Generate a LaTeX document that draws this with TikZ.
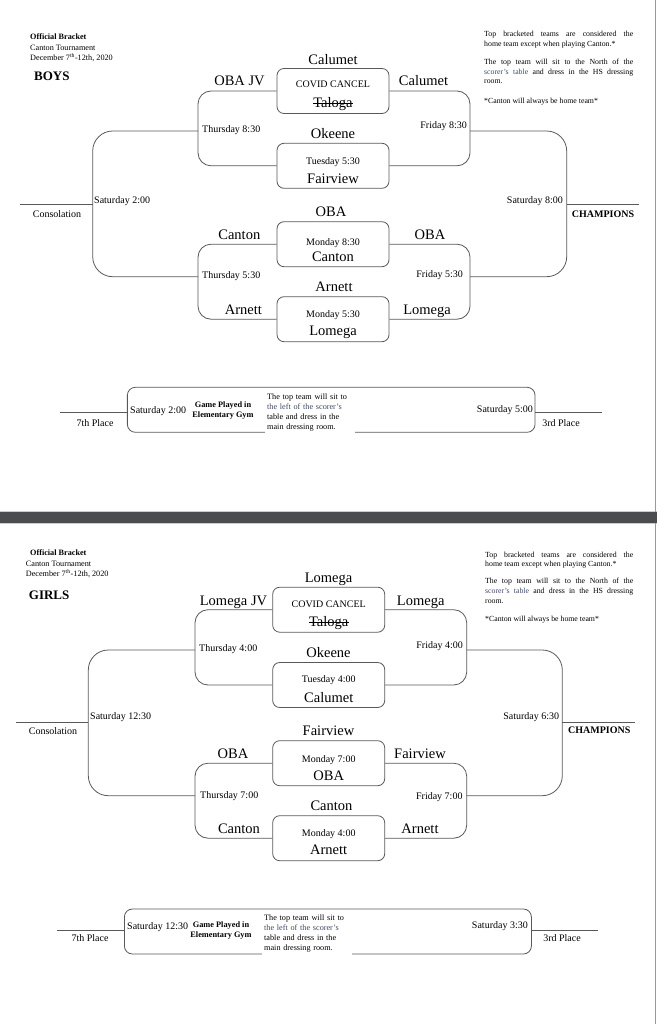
\documentclass[tikz,border=0pt]{standalone}
\usepackage{fontspec}
\setmainfont{Liberation Serif}
\usepackage{tikz}
\definecolor{linegray}{rgb}{0.35,0.35,0.35}
\definecolor{bandgray}{rgb}{0.29,0.30,0.31}
\definecolor{scorerblue}{rgb}{0.25,0.29,0.42}

\begin{document}
\begin{tikzpicture}[x=1pt,y=-1pt,
  teamname/.style={font=\fontsize{14.5}{16}\selectfont,anchor=base,inner sep=0pt},
  slottime/.style={font=\fontsize{10}{12}\selectfont,inner sep=0pt},
  headtext/.style={font=\fontsize{8.2}{10}\selectfont,anchor=west,inner sep=0pt},
  ruletext/.style={font=\fontsize{7.8}{9.6}\selectfont,anchor=north west,inner sep=0pt,align=left},
  gymtext/.style={font=\fontsize{8.3}{10}\selectfont\bfseries,inner sep=0pt,align=center},
  notetext/.style={font=\fontsize{8.2}{10}\selectfont,anchor=north west,fill=white,inner xsep=2pt,inner ysep=4pt,text width=86pt,align=left},
  matchbox/.style={draw=linegray,line width=0.8pt,rounded corners=7pt,minimum width=112pt,minimum height=45pt,inner sep=0pt},
  placebox/.style={draw=linegray,line width=0.8pt,rounded corners=8pt,minimum height=45pt,inner sep=0pt},
  bracket/.style={draw=linegray,line width=0.8pt,rounded corners=13pt},
  bigbracket/.style={draw=linegray,line width=0.8pt,rounded corners=20pt},
  tail/.style={draw=linegray,line width=0.8pt}]
\useasboundingbox (0,0) rectangle (657,1024);
%\draw[step=50pt,lightgray,very thin] (0,0) grid (657,1024);

% page edges
\fill[bandgray] (0,512) rectangle (657,523);
\draw[gray!40,line width=0.6pt] (0,511.7) -- (657,511.7);
\draw[gray!40,line width=0.6pt] (0,523.3) -- (657,523.3);
\draw[gray!80,line width=0.7pt] (655.3,0) -- (655.3,512);
\draw[gray!80,line width=0.7pt] (655.3,523) -- (655.3,1024);

% ---------------- BOYS ----------------
\node[headtext,font=\fontsize{8.2}{10}\selectfont\bfseries] (bOff) at (30,37) {Official Bracket};
\node[headtext] (bTour) at (30,48) {Canton Tournament};
\node[headtext] (bDate) at (30,58) {December 7\textsuperscript{th}-12th, 2020};
\node[headtext,font=\fontsize{13}{15}\selectfont\bfseries] (bBoys) at (34,76) {BOYS};

\node[ruletext] (bRuleA) at (484,31) {\makebox[149pt][s]{Top bracketed teams are considered the}\\home team except when playing Canton.*};
\node[ruletext] (bRuleB) at (484,58.8) {\makebox[149pt][s]{The top team will sit to the North of the}\\\makebox[149pt][s]{{\color{scorerblue}scorer's table} and dress in the HS dressing}\\room.};
\node[ruletext] (bRuleC) at (484,97.8) {*Canton will always be home team*};

\node[matchbox] (bA) at (333,91) {};
\node[matchbox] (bB) at (333,165.8) {};
\node[matchbox] (bC) at (333,244.2) {};
\node[matchbox] (bD) at (333,319.2) {};

\node[teamname] (bAtop) at (333,64.3) {Calumet};
\node[slottime,anchor=base] (bAin) at (333,88) {COVID CANCEL};
\node[teamname] (bAout) at (333,108) {Taloga};
\draw[line width=0.6pt] ([yshift=4.3pt]bAout.base west) -- ([yshift=4.3pt]bAout.base east);
\node[teamname] (bBtop) at (333,138.3) {Okeene};
\node[slottime,anchor=base] (bBin) at (333,164.5) {Tuesday 5:30};
\node[teamname] (bBout) at (333,184) {Fairview};
\node[teamname] (bCtop) at (331,216.7) {OBA};
\node[slottime,anchor=base] (bCin) at (333,245.5) {Monday 8:30};
\node[teamname] (bCout) at (333,261.7) {Canton};
\node[teamname] (bDtop) at (334,291.7) {Arnett};
\node[slottime,anchor=base] (bDin) at (333,317.5) {Monday 5:30};
\node[teamname] (bDout) at (333,335.5) {Lomega};

\coordinate (bThuA) at (198,131);
\coordinate (bThuB) at (198,276.7);
\coordinate (bFriA) at (470,131);
\coordinate (bFriB) at (470,276.7);
\coordinate (bCons) at (92.7,204);
\coordinate (bConsEnd) at (20,204);
\coordinate (bChamp) at (566.7,204);
\coordinate (bChampEnd) at (639,204);

\draw[bracket] (bA.west) -| (bThuA) |- (bB.west);
\draw[bracket] (bC.west) -| (bThuB) |- (bD.west);
\draw[bracket] (bA.east) -| (bFriA) |- (bB.east);
\draw[bracket] (bC.east) -| (bFriB) |- (bD.east);
\draw[bigbracket] (bThuA) -| (bCons) |- (bThuB);
\draw[bigbracket] (bFriA) -| (bChamp) |- (bFriB);
\draw[tail] (bCons) -- (bConsEnd);
\draw[tail] (bChamp) -- (bChampEnd);

\node[teamname] (bObaJv) at (239.5,86) {OBA JV};
\node[teamname] (bCalR) at (423.5,86) {Calumet};
\node[teamname] (bCanL) at (239.3,239.3) {Canton};
\node[teamname] (bArnL) at (243.3,314.3) {Arnett};
\node[teamname] (bObaR) at (430,239.3) {OBA};
\node[teamname] (bLomR) at (427,314.3) {Lomega};

\node[slottime,anchor=west] (bThu1) at (202,130) {Thursday 8:30};
\node[slottime,anchor=west] (bThu2) at (202,276) {Thursday 5:30};
\node[slottime,anchor=east] (bFri1) at (467,126) {Friday 8:30};
\node[slottime,anchor=east] (bFri2) at (463,275) {Friday 5:30};
\node[slottime,anchor=west] (bSat1) at (94,201) {Saturday 2:00};
\node[slottime,anchor=east] (bSat2) at (563,201) {Saturday 8:00};
\node[slottime] (bConsTxt) at (57,214) {Consolation};
\node[slottime,font=\fontsize{10}{12}\selectfont\bfseries] (bChampTxt) at (603,214) {CHAMPIONS};

\node[placebox,minimum width=407.7pt] (bPlace) at (331.2,409.8) {};
\coordinate (bSeventh) at (60,412.3);
\coordinate (bThird) at (602,412.3);
\draw[tail] (bSeventh) -- (bSeventh -| bPlace.west);
\draw[tail] (bPlace.east |- bThird) -- (bThird);
\node[slottime] (bSevTxt) at (95,422.7) {7th Place};
\node[slottime] (bThiTxt) at (561,422.7) {3rd Place};
\node[slottime,anchor=west] (bSat3) at (130,411) {Saturday 2:00};
\node[slottime,anchor=east] (bSat4) at (533,410) {Saturday 5:00};
\node[gymtext] (bGym) at (223,411) {Game Played in\\Elementary Gym};
\node[notetext] (bNote) at (265,389.9) {The top team will sit to\\{\color{scorerblue}the left of the scorer's}\\table and dress in the\\main dressing room.};

% ---------------- GIRLS ----------------
\node[headtext,font=\fontsize{8.2}{10}\selectfont\bfseries] (gOff) at (30,552.7) {Official Bracket};
\node[headtext] (gTour) at (25.7,564) {Canton Tournament};
\node[headtext] (gDate) at (25.7,573.7) {December 7\textsuperscript{th}-12th, 2020};
\node[headtext,font=\fontsize{13}{15}\selectfont\bfseries] (gGirls) at (28.7,595) {GIRLS};

\node[ruletext] (gRuleA) at (485,551.5) {\makebox[148pt][s]{Top bracketed teams are considered the}\\home team except when playing Canton.*};
\node[ruletext] (gRuleB) at (485,578.3) {\makebox[148pt][s]{The top team will sit to the North of the}\\\makebox[148pt][s]{{\color{scorerblue}scorer's table} and dress in the HS dressing}\\room.};
\node[ruletext] (gRuleC) at (485,616.3) {*Canton will always be home team*};

\node[matchbox] (gA) at (328.7,609.7) {};
\node[matchbox] (gB) at (328.7,685) {};
\node[matchbox] (gC) at (328.7,763.2) {};
\node[matchbox] (gD) at (328.7,838.2) {};

\node[teamname] (gAtop) at (328.5,582.7) {Lomega};
\node[slottime,anchor=base] (gAin) at (328.7,607.5) {COVID CANCEL};
\node[teamname] (gAout) at (328.7,626.7) {Taloga};
\draw[line width=0.6pt] ([yshift=4.3pt]gAout.base west) -- ([yshift=4.3pt]gAout.base east);
\node[teamname] (gBtop) at (328.5,657.7) {Okeene};
\node[slottime,anchor=base] (gBin) at (328.7,682.5) {Tuesday 4:00};
\node[teamname] (gBout) at (328.7,702.3) {Calumet};
\node[teamname] (gCtop) at (328.5,735.7) {Fairview};
\node[slottime,anchor=base] (gCin) at (328.7,762.5) {Monday 7:00};
\node[teamname] (gCout) at (328.7,780.5) {OBA};
\node[teamname] (gDtop) at (331.5,810.7) {Canton};
\node[slottime,anchor=base] (gDin) at (328.7,836.5) {Monday 4:00};
\node[teamname] (gDout) at (328.7,854.5) {Arnett};

\coordinate (gThuA) at (195,650);
\coordinate (gThuB) at (195,795.7);
\coordinate (gFriA) at (466.7,650);
\coordinate (gFriB) at (466.7,795.7);
\coordinate (gCons) at (88.3,722.6);
\coordinate (gConsEnd) at (16,722.6);
\coordinate (gChamp) at (562.3,722.6);
\coordinate (gChampEnd) at (635,722.6);

\draw[bracket] (gA.west) -| (gThuA) |- (gB.west);
\draw[bracket] (gC.west) -| (gThuB) |- (gD.west);
\draw[bracket] (gA.east) -| (gFriA) |- (gB.east);
\draw[bracket] (gC.east) -| (gFriB) |- (gD.east);
\draw[bigbracket] (gThuA) -| (gCons) |- (gThuB);
\draw[bigbracket] (gFriA) -| (gChamp) |- (gFriB);
\draw[tail] (gCons) -- (gConsEnd);
\draw[tail] (gChamp) -- (gChampEnd);

\node[teamname] (gLomJv) at (233.5,605) {Lomega JV};
\node[teamname] (gLomR) at (420.7,605) {Lomega};
\node[teamname] (gObaL) at (233,758.3) {OBA};
\node[teamname] (gCanL) at (239,833.3) {Canton};
\node[teamname] (gFaiR) at (420,758.3) {Fairview};
\node[teamname] (gArnR) at (420,833.3) {Arnett};

\node[slottime,anchor=west] (gThu1) at (199,649.3) {Thursday 4:00};
\node[slottime,anchor=west] (gThu2) at (200,796) {Thursday 7:00};
\node[slottime,anchor=east] (gFri1) at (463,646) {Friday 4:00};
\node[slottime,anchor=east] (gFri2) at (462.7,796.7) {Friday 7:00};
\node[slottime,anchor=west] (gSat1) at (90,717.3) {Saturday 12:30};
\node[slottime,anchor=east] (gSat2) at (559.3,717.3) {Saturday 6:30};
\node[slottime] (gConsTxt) at (53,731) {Consolation};
\node[slottime,font=\fontsize{10}{12}\selectfont\bfseries] (gChampTxt) at (599.3,730.7) {CHAMPIONS};

\node[placebox,minimum width=407pt] (gPlace) at (327.9,931.5) {};
\coordinate (gSeventh) at (57,930);
\coordinate (gThird) at (598,930);
\draw[tail] (gSeventh) -- (gSeventh -| gPlace.west);
\draw[tail] (gPlace.east |- gThird) -- (gThird);
\node[slottime] (gSevTxt) at (90,938) {7th Place};
\node[slottime] (gThiTxt) at (562,938) {3rd Place};
\node[slottime,anchor=west] (gSat3) at (127,927) {Saturday 12:30};
\node[slottime,anchor=east] (gSat4) at (528,926) {Saturday 3:30};
\node[gymtext] (gGym) at (221,930.5) {Game Played in\\Elementary Gym};
\node[notetext] (gNote) at (262,910.8) {The top team will sit to\\{\color{scorerblue}the left of the scorer's}\\table and dress in the\\main dressing room.};
\end{tikzpicture}
\end{document}
